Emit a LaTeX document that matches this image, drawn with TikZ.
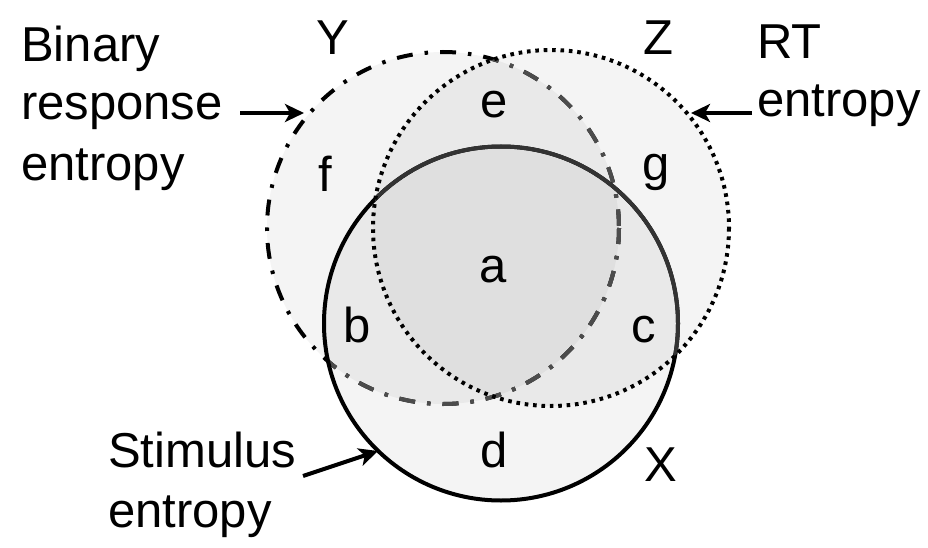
\documentclass[tikz,border=0pt]{standalone}
\usepackage{fontspec}
\setmainfont{Liberation Sans}
\usetikzlibrary{arrows.meta}
\begin{document}
\begin{tikzpicture}[x=1pt,y=-1pt,
  lbl/.style={font=\fontsize{49}{59}\selectfont, inner sep=0pt, anchor=base},
  lblw/.style={lbl, anchor=base west},
  setfill/.style={fill=black, fill opacity=0.045, draw=none},
  ystroke/.style={line width=4pt, dash pattern=on 16pt off 12pt on 3.5pt off 12pt},
  zstroke/.style={line width=4pt, dash pattern=on 3.6pt off 4.8pt},
  xstroke/.style={line width=4pt},
  arr/.style={line width=4pt, -{Stealth[length=19pt,width=18pt,inset=5pt]}}]
\useasboundingbox (0,0) rectangle (928,548);
% circle centres
\coordinate (cy) at (443,228);
\coordinate (cz) at (551,228);
\coordinate (cx) at (501,323.5);
% fills
\fill[setfill] (cy) circle (176);
\fill[setfill] (cz) circle (178);
\fill[setfill] (cx) circle (177);
% Y stroke
\draw[ystroke] (cy) circle (176);
\begin{scope}
  \clip (cz) circle (178);
  \draw[ystroke, color=white!30!black] (cy) circle (176);
\end{scope}
\begin{scope}
  \clip (cx) circle (177);
  \draw[ystroke, color=white!30!black] (cy) circle (176);
\end{scope}
% X stroke
\draw[xstroke] (cx) circle (177);
\begin{scope}
  \clip (cz) circle (178);
  \draw[xstroke, color=white!20!black] (cx) circle (177);
\end{scope}
% Z stroke
\draw[zstroke] (cz) circle (178);
% set names
\node[lbl] (Y) at (333,55) {Y};
\node[lbl] (Z) at (658,55) {Z};
\node[lbl] (X) at (661,481) {X};
% region labels
\node[lbl] (ra) at (493,282) {a};
\node[lbl] (rb) at (357,342) {b};
\node[lbl] (rc) at (644,342) {c};
\node[lbl] (rd) at (494,467) {d};
\node[lbl] (re) at (494,118) {e};
\node[lbl] (rf) at (325,192) {f};
\node[lbl] (rg) at (656,180) {g};
% side labels
\node[lblw] (bin1) at (21,62) {Binary};
\node[lblw] (bin2) at (21,120) {response};
\node[lblw] (bin3) at (21,180) {entropy};
\node[lblw] (rt1) at (757,59) {RT};
\node[lblw] (rt2) at (757,117) {entropy};
\node[lblw] (st1) at (108,467) {Stimulus};
\node[lblw] (st2) at (108,527) {entropy};
% arrow targets on circles
\coordinate (ty) at (304,113);
\coordinate (tz) at (691,113);
\coordinate (tx) at (378,451);
\coordinate (sy) at (240,113);
\coordinate (sz) at (752,113);
\coordinate (sx) at (303,476);
\draw[arr] (sy) -- (ty);
\draw[arr] (sz) -- (tz);
\draw[arr] (sx) -- (tx);
\end{tikzpicture}
\end{document}
